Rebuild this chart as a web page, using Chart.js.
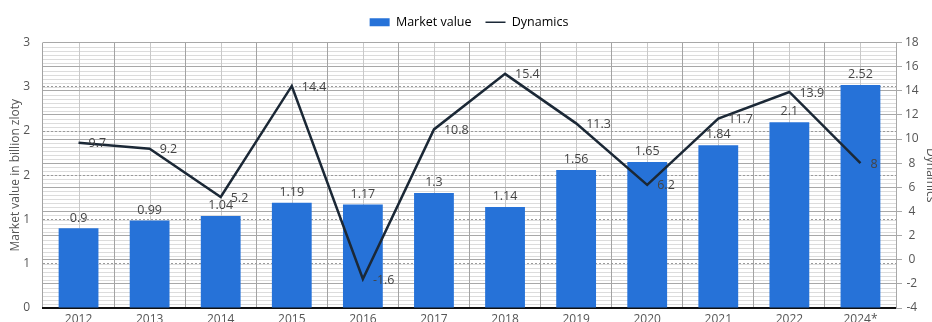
<!DOCTYPE html>
<html>
<head>
<meta charset="utf-8">
<script src="https://cdn.jsdelivr.net/npm/chart.js@4"></script>
<style>
  html, body { margin: 0; padding: 0; background: #fff; overflow: hidden; }
  #wrap { width: 938px; height: 342px; }
</style>
</head>
<body>
<div id="wrap"><canvas id="chart"></canvas></div>
<script>
const years = ["2012", "2013", "2014", "2015", "2016", "2017", "2018", "2019", "2020", "2021", "2022", "2024*"];
const marketValue = [0.9, 0.99, 1.04, 1.19, 1.17, 1.3, 1.14, 1.56, 1.65, 1.84, 2.1, 2.52];
const dynamics = [9.7, 9.2, 5.2, 14.4, -1.6, 10.8, 15.4, 11.3, 6.2, 11.7, 13.9, 8];

const FONT = "'Open Sans', 'Noto Sans', sans-serif";
const BLUE = "#2672d8";
const NAVY = "#1b2836";

// a little extra room between the legend and the plot
const legendGap = {
  id: "legendGap",
  beforeUpdate(chart) {
    const legend = chart.legend;
    if (!legend || legend._gapPatched) return;
    const fit = legend.fit;
    legend.fit = function () {
      fit.call(this);
      this.height += 4;
    };
    legend._gapPatched = true;
  }
};

// fine horizontal rules and mid-category verticals behind the main grid
const backgroundGrid = {
  id: "backgroundGrid",
  beforeDraw(chart) {
    const { ctx, chartArea: a, scales } = chart;
    ctx.save();
    ctx.lineWidth = 1;
    ctx.strokeStyle = "#dcdcdc";
    for (let i = -12; i <= 54; i++) {
      if (i % 6 === 0) continue;
      const y = Math.round(scales.y2.getPixelForValue(i / 3)) + 0.5;
      ctx.beginPath();
      ctx.moveTo(a.left, y);
      ctx.lineTo(a.right, y);
      ctx.stroke();
    }
    ctx.strokeStyle = "#c9c9c9";
    years.forEach((_, i) => {
      const x = Math.round(scales.x.getPixelForValue(i)) + 0.5;
      ctx.beginPath();
      ctx.moveTo(x, a.top);
      ctx.lineTo(x, a.bottom);
      ctx.stroke();
    });
    ctx.restore();
  }
};

// value labels: above the bars, to the right of the line points
const valueLabels = {
  id: "valueLabels",
  afterDatasetsDraw(chart) {
    const { ctx } = chart;
    ctx.save();
    ctx.font = "12.5px " + FONT;
    ctx.fillStyle = "#444";
    chart.getDatasetMeta(0).data.forEach((bar, i) => {
      ctx.textAlign = "center";
      ctx.textBaseline = "bottom";
      ctx.fillText(String(marketValue[i]), bar.x, bar.y - 4);
    });
    chart.getDatasetMeta(1).data.forEach((pt, i) => {
      ctx.textAlign = "left";
      ctx.textBaseline = "middle";
      ctx.fillText(String(dynamics[i]), pt.x + 10, pt.y + 1);
    });
    ctx.restore();
  }
};

Chart.defaults.font.family = FONT;
Chart.defaults.font.size = 12;
Chart.defaults.color = "#555";

new Chart(document.getElementById("chart"), {
  data: {
    labels: years,
    datasets: [
      {
        type: "bar",
        label: "Market value",
        data: marketValue,
        yAxisID: "y",
        backgroundColor: BLUE,
        barPercentage: 0.8,
        categoryPercentage: 0.7,
        order: 2
      },
      {
        type: "line",
        label: "Dynamics",
        data: dynamics,
        yAxisID: "y2",
        borderColor: NAVY,
        backgroundColor: NAVY,
        borderWidth: 2.5,
        pointRadius: 0,
        tension: 0,
        order: 1
      }
    ]
  },
  options: {
    responsive: true,
    maintainAspectRatio: false,
    animation: false,
    layout: { padding: { top: 2, left: 0, right: 0, bottom: 0 } },
    plugins: {
      tooltip: { enabled: false },
      legend: {
        position: "top",
        labels: {
          usePointStyle: true,
          pointStyleWidth: 20,
          boxHeight: 8,
          padding: 14,
          color: "#444",
          font: { size: 12.5 },
          sort: (a, b) => a.datasetIndex - b.datasetIndex,
          generateLabels(chart) {
            return [
              { text: "Market value", fillStyle: BLUE, strokeStyle: BLUE, lineWidth: 0, pointStyle: "rect", datasetIndex: 0 },
              { text: "Dynamics", fillStyle: NAVY, strokeStyle: NAVY, lineWidth: 1.5, pointStyle: "line", datasetIndex: 1 }
            ];
          }
        }
      }
    },
    scales: {
      x: {
        offset: true,
        afterFit(scale) { scale.height = 34; },
        grid: { offset: true, color: "#a3a3a3", drawTicks: false },
        border: { display: true, color: "#111", width: 2 },
        ticks: { padding: 4, maxRotation: 0, color: "#555" }
      },
      y: {
        position: "left",
        min: 0,
        max: 3,
        afterFit(scale) { scale.width = 43; },
        ticks: {
          stepSize: 0.5,
          padding: 13,
          callback: v => String(Math.round(v))
        },
        grid: { color: "#9a9a9a", drawTicks: false },
        border: { display: false, dash: [2, 2] },
        title: {
          display: true,
          text: "Market value in billion zloty",
          color: "#555",
          font: { size: 12 },
          padding: { top: 8, bottom: 0 }
        }
      },
      y2: {
        position: "right",
        min: -4,
        max: 18,
        afterFit(scale) { scale.width = 42; },
        ticks: { stepSize: 2, padding: 3, crossAlign: "center" },
        grid: { color: "#a8a8a8", drawOnChartArea: true, tickLength: 6 },
        border: { display: true, color: "#a8a8a8" },
        title: {
          display: true,
          text: "Dynamics",
          color: "#555",
          font: { size: 12 },
          padding: { top: 0, bottom: 0 }
        }
      }
    }
  },
  plugins: [legendGap, backgroundGrid, valueLabels]
});
</script>
</body>
</html>
